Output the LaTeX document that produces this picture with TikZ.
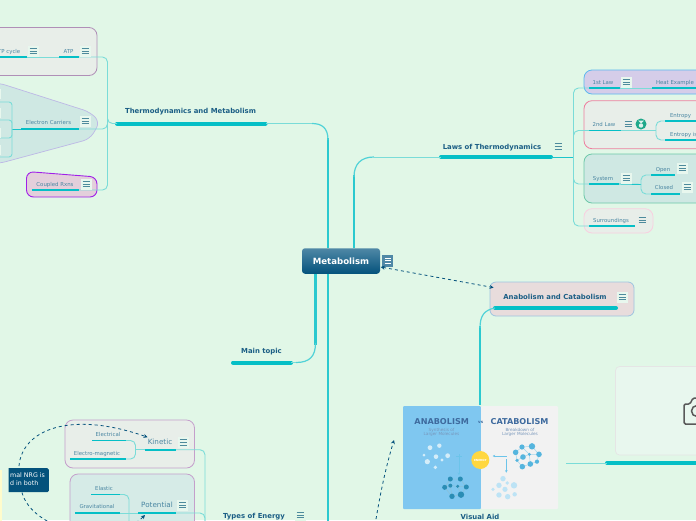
\documentclass[tikz,border=0pt]{standalone}
\usepackage{fontspec}
\setmainfont{DejaVu Sans}
\usetikzlibrary{arrows.meta}
\definecolor{bgc}{HTML}{E1F7E7}
\definecolor{teal}{HTML}{05BFC6}
\definecolor{thinc}{HTML}{7ADCD8}
\definecolor{dark}{HTML}{1B5E85}
\definecolor{subt}{HTML}{4A86A2}
\definecolor{iconc}{HTML}{4D8A9C}
\definecolor{iconb}{HTML}{E8F7EE}
\definecolor{notec}{HTML}{04527C}
\definecolor{topc}{HTML}{4F88A6}
\definecolor{purpb}{HTML}{C49FCB}
\definecolor{infoblue}{HTML}{7FC7F0}
\definecolor{infotxt}{HTML}{3E6A9E}
\definecolor{fillpale}{HTML}{E8EEE9}
\definecolor{filltint}{HTML}{CFE8E3}
\definecolor{fillrose}{HTML}{E3CFDB}
\definecolor{filllav}{HTML}{D5CDE9}
\definecolor{fillanab}{HTML}{E8DCDC}
\definecolor{edgelav}{HTML}{BDB8E6}
\definecolor{edgepurp}{HTML}{A020E8}
\definecolor{edgeblue}{HTML}{5BB8EF}
\definecolor{edgepink}{HTML}{EE7F9F}
\definecolor{edgegreen}{HTML}{6CC8A8}
\definecolor{edgerose}{HTML}{F8D0E0}
\definecolor{edgeanab}{HTML}{9DC4E0}
\definecolor{molpale}{HTML}{BDE3F5}
\definecolor{moldark}{HTML}{2A8DB5}
\definecolor{molmid}{HTML}{55B5DE}
\definecolor{arrowblue}{HTML}{6CC4EA}
\definecolor{badge}{HTML}{1FA88A}
\definecolor{energyc}{HTML}{FFD740}
\tikzset{
  x=1pt,y=-1pt,
  conn/.style={draw=thinc,line width=.9,rounded corners=5},
  trunk/.style={draw=teal!85!white,line width=2.6},
  bigbar/.style={draw=teal,line width=4,line cap=round},
  subbar/.style={draw=teal,line width=1.7},
  fixh/.style={text height=.72em,text depth=.2em},
  maintxt/.style={inner sep=0,fixh,text=dark,font=\bfseries\fontsize{6.9}{8}\selectfont},
  subtxt/.style={inner sep=0,fixh,text=subt,font=\fontsize{5.4}{6}\selectfont},
  kintxt/.style={inner sep=0,fixh,text=subt,font=\fontsize{7.2}{8}\selectfont},
  groupbox/.style={line width=.8,rounded corners=8},
  linkd/.style={draw=notec,line width=.8,dash pattern=on 3pt off 3pt},
  tip/.style={-{Stealth[length=4pt,width=4pt]}},
  infoarrow/.style={draw=arrowblue,line width=.7,-{Stealth[length=2.5pt,width=2.5pt]}},
  infohead/.style={inner sep=0,text=infotxt,font=\bfseries\fontsize{8.1}{9}\selectfont},
  infosub/.style={inner sep=0,align=center,text=infotxt!70!white,font=\fontsize{4.2}{4.6}\selectfont},
}
\newcommand\ulbar[5]{\coordinate (#1l) at (#2,#4);\coordinate (#1r) at (#3,#4);\draw[#5] (#1l) -- (#1r);}
\newcommand\menuicon[3][iconb]{%
  \fill[#1] (#2-5.5,#3-5.5) rectangle (#2+5.5,#3+5.5);
  \foreach \dy in {-2.6,0,2.6}{\draw[iconc,line width=.9] (#2-3.5,#3+\dy) -- (#2+3.5,#3+\dy);}}
\newcommand\molset[2]{\foreach \ma/\mb/\mr in {#2}{\fill[#1] (\ma,\mb) circle[radius=\mr pt];}}
\begin{document}
\begin{tikzpicture}
\useasboundingbox (0,0) rectangle (696,520);
\clip (0,0) rectangle (696,520);
\fill[bgc] (0,0) rectangle (696,520);
% ---- group boxes
\draw[groupbox,draw=purpb!90!black,fill=fillpale] (-20,27.5) rectangle (97,75.5);
\draw[line width=.7,draw=edgelav,fill=filltint,rounded corners=7] (-20,83) -- (-1,83) -- (90,112) -- (100,122) -- (90,139) -- (-1,163.5) -- (-20,163.5) -- cycle;
\draw[line width=.9,draw=edgepurp,fill=fillrose,rounded corners=7] (26.5,171.5) -- (97,177) -- (97,197) -- (26.5,197) -- cycle;
\draw[groupbox,draw=edgeblue,fill=filllav] (584,70) rectangle (720,94);
\draw[groupbox,draw=edgepink,fill=fillpale] (584,100.7) rectangle (720,148.7);
\draw[groupbox,draw=edgegreen,fill=filltint] (584,154) rectangle (720,203);
\draw[groupbox,draw=edgerose,fill=fillpale] (584,208.7) rectangle (653,233);
\draw[groupbox,draw=purpb,fill=fillpale] (65,420) rectangle (194.5,468);
\draw[groupbox,draw=purpb,fill=filltint!85!white] (70,474) rectangle (194.5,540);
\fill[yellow!20!white] (-5,470) rectangle (1.8,525);
% ---- camera placeholder
\draw[draw=black!10,fill=iconb,rounded corners=4,line width=.7] (615.5,366.5) rectangle (720,455);
\draw[draw=black!65,line width=1.5,rounded corners=1.5] (684,404) -- (690,404) -- (693,398) -- (710,398) -- (710,424) -- (684,424) -- cycle;
\draw[draw=black!65,line width=1.5] (697,411) circle[radius=5.5pt];
% ---- central topic and anabolism box
\node[top color=topc,bottom color=notec,rounded corners=3,minimum width=78,minimum height=25.5,inner sep=0,text=white,font=\bfseries\fontsize{8.6}{10}\selectfont] (metab) at (341,261) {Metabolism};
\node[draw=edgeanab,fill=fillanab,line width=.8,rounded corners=6,minimum width=144,minimum height=34,inner sep=0] (anab) at (562,299) {};
% ---- bars
\ulbar{thermo}{117}{265.5}{123.5}{bigbar}
\ulbar{laws}{441}{551}{157}{bigbar}
\ulbar{main}{233}{291}{362.5}{bigbar}
\ulbar{anabar}{495}{616}{308}{bigbar}
\ulbar{photo}{607}{720}{463}{bigbar}
\ulbar{atpc}{-10}{27}{57}{subbar}
\ulbar{atp}{59}{79}{57}{subbar}
\ulbar{elec}{21}{79}{129}{subbar}
\ulbar{coup}{31.5}{79}{190}{subbar}
\ulbar{first}{589}{619.5}{88}{subbar}
\ulbar{heat}{652}{720}{88}{subbar}
\ulbar{second}{589}{621}{130.5}{subbar}
\ulbar{ent}{665}{720}{121}{subbar}
\ulbar{enti}{665}{720}{140}{subbar}
\ulbar{sys}{589}{619}{184}{subbar}
\ulbar{open}{651}{675}{175}{subbar}
\ulbar{closed}{651}{680}{194}{subbar}
\ulbar{surr}{589}{635}{226}{subbar}
\ulbar{elc}{92}{126}{440.5}{subbar}
\ulbar{elm}{70}{126}{459}{subbar}
\ulbar{pot}{138}{176}{513}{subbar}
\ulbar{ela}{91}{120}{494.5}{subbar}
\ulbar{grv}{75}{120}{513}{subbar}
% ---- trunk connectors
\coordinate (thermoJ) at (328,124);
\coordinate (lawsJ) at (354,157);
\coordinate (mainJ) at (315.5,362.5);
\coordinate (typesEnd) at (328,530);
\coordinate (imgR) at (566,463);
\draw[trunk] (metab.north -| thermoJ) -- (328,138);
\draw[draw=teal!70!white,line width=1.2] (328,140) .. controls (328,128) and (322,123.5) .. (312,123.5);
\draw[conn] (312,123.5) -- (thermor);
\draw[trunk] (metab.north -| lawsJ) -- (354,175);
\draw[draw=teal!70!white,line width=1.2] (354,177) .. controls (354,164) and (361,157) .. (374,157);
\draw[conn] (374,157) -- (lawsl);
\draw[trunk] (metab.south -| mainJ) -- (315.5,345);
\draw[draw=teal!70!white,line width=1.2] (315.5,343) .. controls (315.5,356) and (310,362.5) .. (296,362.5);
\draw[conn] (296,362.5) -- (mainr);
\draw[trunk] (metab.south -| typesEnd) -- (typesEnd);
\draw[trunk] (480,405) -- (480,326);
\draw[draw=teal!70!white,line width=1.2] (480,328) .. controls (480,316) and (484,310) .. (anabarl);
\draw[conn] (imgR) -- (photol);
% ---- branch connectors
\coordinate (jLeft) at (107.5,123.5);
\draw[conn] (atpr) -| (jLeft) |- (coupr);
\draw[conn] (elecr) -| (jLeft) |- (thermol);
\draw[conn] (atpcr) -- (atpl);
\coordinate (jElec) at (12,129);
\draw[draw=teal!80!thinc,line width=.9] (elecl) -- (jElec);
\draw[conn,rounded corners=3] (-10,102) -| (jElec) |- (-10,157);
\draw[conn,rounded corners=3] (-10,120) -| (jElec) |- (-10,138);
\coordinate (jRight) at (573.5,157);
\draw[draw=teal!80!thinc,line width=.9] (lawsr) -- (jRight);
\draw[conn] (firstl) -| (jRight) |- (surrl);
\draw[conn] (secondl) -| (jRight) |- (sysl);
\draw[conn] (firstr) -- (heatl);
\coordinate (j2) at (656,130.5);
\draw[conn] (secondr) -- (j2);
\draw[conn] (entl) -| (j2) |- (entil);
\coordinate (jS) at (641,184.5);
\draw[draw=teal!80!thinc,line width=.9] (sysr) -- (jS);
\draw[conn] (openl) -| (jS) |- (closedl);
\coordinate (jK) at (135.5,449.7);
\coordinate (kbarA) at (145,449.7);
\coordinate (kbarB) at (176,449.7);
\draw[conn] (kbarA) -- (jK);
\draw[conn] (elcr) -| (jK) |- (elmr);
\coordinate (jE) at (205,530);
\draw[conn] (kbarB) -| (jE);
\draw[conn] (potr) -| (jE);
\coordinate (jP) at (129,530);
\draw[conn] (elar) -| (jP);
\draw[conn] (grvr) -- (potl);
\draw[subbar] (kbarA) -- (kbarB);
% ---- main text
\node[maintxt] (tThermo) at (190.5,111) {Thermodynamics and Metabolism};
\node[maintxt] (tLaws) at (492,146.5) {Laws of Thermodynamics};
\node[maintxt] (tMain) at (261.5,351) {Main topic};
\node[maintxt] (tAnab) at (555,297) {Anabolism and Catabolism};
\node[maintxt] (tTypes) at (254,516) {Types of Energy};
\node[maintxt] (tVisual) at (480,517) {Visual Aid};
% ---- sub text
\node[subtxt,anchor=east] (tAtpc) at (20.5,51) {ATP cycle};
\node[subtxt] (tAtp) at (68.5,51) {ATP};
\node[subtxt] (tElec) at (48.5,121.5) {Electron Carriers};
\node[subtxt] (tCoup) at (55,183.5) {Coupled Rxns};
\node[subtxt] (tFirst) at (603,82) {1st Law};
\node[subtxt] (tHeat) at (675,82) {Heat Example};
\node[subtxt] (tSecond) at (604,124) {2nd Law};
\node[subtxt] (tEnt) at (680.5,115) {Entropy};
\node[subtxt,anchor=west] (tEnti) at (670,134) {Entropy is};
\node[subtxt] (tSys) at (603,178) {System};
\node[subtxt] (tOpen) at (663,169) {Open};
\node[subtxt] (tClosed) at (664,187) {Closed};
\node[subtxt] (tSurr) at (611,220) {Surroundings};
\node[kintxt] (tKin) at (160,442) {Kinetic};
\node[kintxt] (tPot) at (157,505) {Potential};
\node[subtxt] (tElc) at (108,434) {Electrical};
\node[subtxt] (tElm) at (97,452.5) {Electro-magnetic};
\node[subtxt] (tEla) at (104,488) {Elastic};
\node[subtxt] (tGrv) at (97,506) {Gravitational};
% ---- icons
\menuicon{33}{51}
\menuicon{85}{51}
\menuicon{85}{121}
\menuicon{86}{184}
\menuicon{626}{82}
\menuicon[fillpale]{628}{124}
\menuicon{626}{178}
\menuicon{682}{168}
\menuicon{687}{187}
\menuicon[fillpale]{642}{220}
\menuicon[bgc]{558}{146.5}
\menuicon{622}{297}
\menuicon{183}{442.5}
\menuicon{182.5}{505}
\menuicon[bgc]{300}{515}
\foreach \yy in {94,113,133,150}{\fill[iconb] (-2,\yy-5) rectangle (1,\yy+5);}
\fill[topc] (382,255) rectangle (393,266.5);
\foreach \dy in {-2.6,0,2.6}{\draw[white,line width=.9] (384.5,260.7+\dy) -- (390.5,260.7+\dy);}
\fill[badge] (641,124) circle[radius=5.5pt];
\fill[white!85!badge] (641,125.5) circle[radius=2.2pt];
\fill[white!85!badge] (638,120.5) -- (644,120.5) -- (641,123.5) -- cycle;
% ---- info image
\fill[infoblue,rounded corners=1] (403,406) rectangle (481,509);
\fill[black!5,rounded corners=1] (481,406) rectangle (558,509);
\node[infohead] (iAna) at (441.7,422) {ANABOLISM};
\node[infohead] (iCat) at (519.5,422) {CATABOLISM};
\node[inner sep=0,text=infotxt,font=\bfseries\fontsize{4}{5}\selectfont] (iVs) at (480.7,422) {vs};
\node[infosub] (iSyn) at (441.5,432.5) {Synthesis of\\Larger Molecules};
\node[infosub] (iBrk) at (520,432.5) {Breakdown of\\Larger Molecules};
\begin{scope}[shift={(370,400)},x=.3333pt,y=-.3333pt]
 \draw[white!45!molmid,line width=.5] (437,157)--(456,141)--(486,139)--(507,163)--(501,185)--(481,192)--(457,200)--(441,181)--(437,157) (456,141)--(478,163)--(507,163) (459,171)--(478,163)--(481,192) (441,181)--(459,171);
 \molset{molmid}{437/157/2.8,456/141/2.6,486/139/3.2,507/163/2.8,478/163/1.6,459/171/2.8,441/181/1.8,501/185/2.1,481/192/2.8,457/200/2.8}
 \draw[white!45!moldark,line width=.5] (241,237)--(271,237)--(289,261)--(273,284)--(246,289)--(224,262)--(241,237) (241,257)--(263,259)--(289,261) (224,262)--(241,257)--(246,289) (263,259)--(273,284);
 \molset{moldark}{241/237/2.5,271/237/2.5,224/262/2.5,241/257/2,263/259/1.7,289/261/2.5,246/289/2.7,273/284/3.2}
 \molset{white!35!molpale}{180/143/2.4,208/137/2.2,162/165/1.5,198/170/2.3,233/167/2.4,172/185/2.6,216/180/1.6,196/202/1.9}
 \molset{molpale}{399/236/2.7,387/256/2.7,412/249/1.9,432/256/3.2,369/268/1.8,405/268/2.6,387/285/2.7,413/290/2.7,434/283/2.2}
 \draw[infoarrow] (410,168) -- (368,168);
 \draw[infoarrow] (409,178) -- (409,218);
 \draw[infoarrow] (267,178) -- (267,225);
 \draw[arrowblue,line width=.8] (259,170) -- (275,170) (267,163) -- (267,177);
\end{scope}
\node[circle,fill=energyc,minimum size=18,inner sep=0,text=white,font=\bfseries\fontsize{2.8}{3}\selectfont] (iEn) at (480.3,460) {ENERGY};
% ---- note box
\begin{scope}
\clip (8.5,460) rectangle (60,500);
\node[fill=notec,rounded corners=1.5,anchor=north east,minimum width=60,minimum height=24,inner sep=0] (note) at (49,468) {};
\end{scope}
\node[inner sep=0,anchor=north west,align=left,text=white,font=\fontsize{6.3}{8}\selectfont] (tNote) at (10,472.5) {mal NRG is\\d in both};
% ---- dashed links
\coordinate (noteTop) at (19,466);
\coordinate (noteBot) at (22,492.5);
\coordinate (potTip) at (145,515);
\coordinate (infoTip) at (394,440);
\coordinate (infoFrom) at (375,525);
\draw[linkd,tip] (noteTop) .. controls (22,430) and (70,410) .. (tKin.north west);
\draw[linkd,tip] (noteBot) .. controls (32,530) and (110,550) .. (potTip);
\draw[linkd,tip] (infoFrom) .. controls (380,495) and (385,470) .. (infoTip);
\draw[linkd,{Stealth[length=4pt,width=4pt]}-{Stealth[length=4pt,width=4pt]}] ([shift={(0.5,6)}]metab.east) -- ([shift={(4,6)}]anab.north west);
\end{tikzpicture}
\end{document}
